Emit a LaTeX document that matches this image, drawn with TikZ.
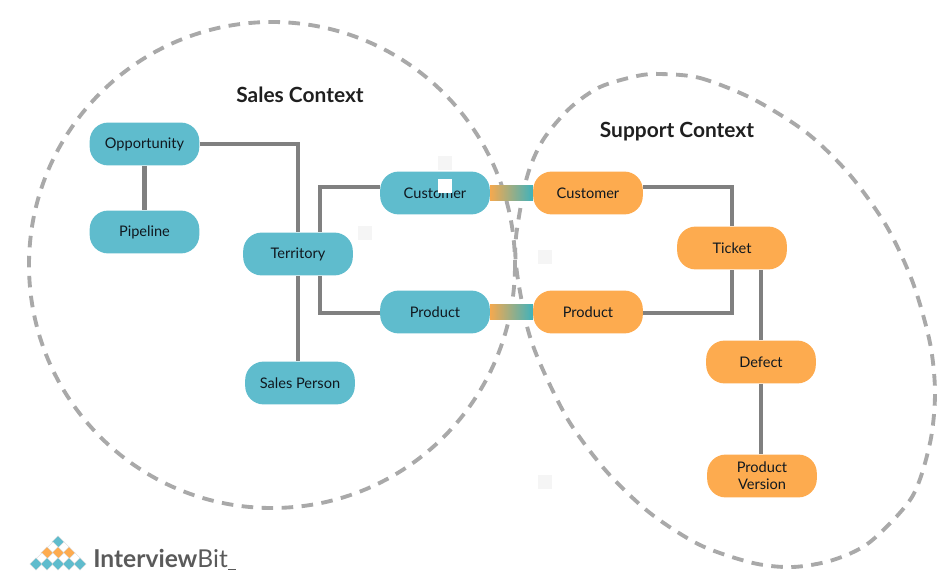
\documentclass[tikz,border=0pt]{standalone}
\usepackage{fontspec}
\setmainfont{Lato}
\usetikzlibrary{shapes.geometric}
\definecolor{salesteal}{HTML}{5FBCCD}
\definecolor{supportorange}{HTML}{FDAB4F}
\definecolor{bridgeteal}{HTML}{3FB2BC}
\definecolor{bridgeorange}{HTML}{F4A94F}
\definecolor{linkgray}{HTML}{808080}
\definecolor{dashgray}{HTML}{A9A9A9}
\definecolor{logogray}{HTML}{5A5A5A}
\definecolor{inktext}{HTML}{10181F}
\tikzset{
  box/.style={rounded corners=10.5pt,minimum width=62.4pt,minimum height=24.4pt,inner sep=0pt,
    text=inktext,font=\fontsize{8.3}{9.6}\selectfont,align=center},
  salesbox/.style={box,fill=salesteal},
  supportbox/.style={box,fill=supportorange},
  link/.style={draw=linkgray,line width=2.6pt},
  bridge/.style={left color=bridgeorange,right color=bridgeteal},
  contextline/.style={draw=dashgray,line width=2.2pt,dash pattern=on 6.6pt off 4.8pt},
  contexttitle/.style={font=\fontsize{11.9}{14}\selectfont\bfseries,text=black!88},
  patch/.style={minimum size=8.3pt,inner sep=0pt},
  tile/.style={diamond,minimum size=7pt,inner sep=0pt,draw=black!15,line width=.2pt}
}
\begin{document}
\begin{tikzpicture}[x=0.02cm,y=-0.02cm]
        \useasboundingbox (0,0) rectangle (950,584);

        \draw[contextline] (272,265) ellipse [x radius=243,y radius=243];
        \draw[contextline] plot[smooth cycle] coordinates {
          (660,74) (700,78) (753,99) (807,133) (850,175) (887,227) (913,283) (930,343)
          (935,393) (930,443) (912,497) (870,542) (833,560) (793,567) (753,563) (700,545)
          (650,513) (607,472) (570,423) (543,370) (528,330) (517,273) (516,237) (527,177)
          (543,140) (570,108) (600,87) (637,76)};

        \node[contexttitle] (salesTitle) at (300,95) {Sales Context};
        \node[contexttitle] (supportTitle) at (677,132) {Support Context};

        \begin{scope}[every node/.style={salesbox}]
          \node (opportunity) at (144.5,144) {Opportunity};
          \node (pipeline)    at (144.5,232) {Pipeline};
          \node (territory)   at (298,254)   {Territory};
          \node (salesPerson) at (300,383)   {Sales Person};
          \node (salesCust)   at (435,193)   {Customer};
          \node (salesProd)   at (435,312)   {Product};
        \end{scope}

        \begin{scope}[every node/.style={supportbox}]
          \node (supCust) at (588,193) {Customer};
          \node (supProd) at (588,312) {Product};
          \node (ticket)  at (732,248) {Ticket};
          \node (defect)  at (761,362) {Defect};
          \node (version) at (762,476) {Product\\Version};
        \end{scope}

        \begin{scope}[every path/.style={link}]
          \path (opportunity.east) -| (territory.north);
          \path (opportunity) -- (pipeline);
          \path (territory.south) -- (territory.south |- salesPerson.north);
          \path ([yshift=3.4pt]salesCust.west) -| ([xshift=12.5pt]territory.north);
          \path ([yshift=-.6pt]salesProd.west) -| ([xshift=12.5pt]territory.south);
          \path ([yshift=3.4pt]supCust.east) -| (ticket.north);
          \path ([yshift=-.6pt]supProd.east) -| (ticket.south);
          \path (defect.north |- ticket.south) -- (defect.north);
          \path (defect.south) -- (defect.south |- version.north);
        \end{scope}

        \path[bridge] ([yshift=4.2pt]salesCust.east) rectangle ([yshift=-4.2pt]supCust.west);
        \path[bridge] ([yshift=4.2pt]salesProd.east) rectangle ([yshift=-4.2pt]supProd.west);

        \begin{scope}[every node/.style={patch}]
          \node[fill=black!4] (patchA) at (445,163) {};
          \node[fill=white]   (patchB) at (445,186) {};
          \node[fill=black!4] (patchC) at (365,233) {};
          \node[fill=black!4] (patchD) at (545,257) {};
          \node[fill=black!4] (patchE) at (545,482) {};
        \end{scope}

        \foreach \col/\row/\tint in {58/542/salesteal,
            53/548/white,64/548/white,
            47/553/supportorange,58/553/supportorange,69/553/supportorange,
            42/559/white,53/559/white,64/559/white,75/559/white,
            36/564/salesteal,47/564/salesteal,58/564/salesteal,69/564/salesteal,80/564/salesteal}
          \node[tile,fill=\tint] (tile\col\row) at (\col,\row) {};

        \node[anchor=west,inner sep=0pt,text=logogray,font=\fontsize{14}{17}\selectfont] (logoText) at (93,558)
          {\textbf{Interview}Bit};
        \coordinate (logoEnd) at (236,569);
        \draw[logogray,line width=.4pt] (logoText.south east |- logoEnd) -- (logoEnd);
\end{tikzpicture}
\end{document}
